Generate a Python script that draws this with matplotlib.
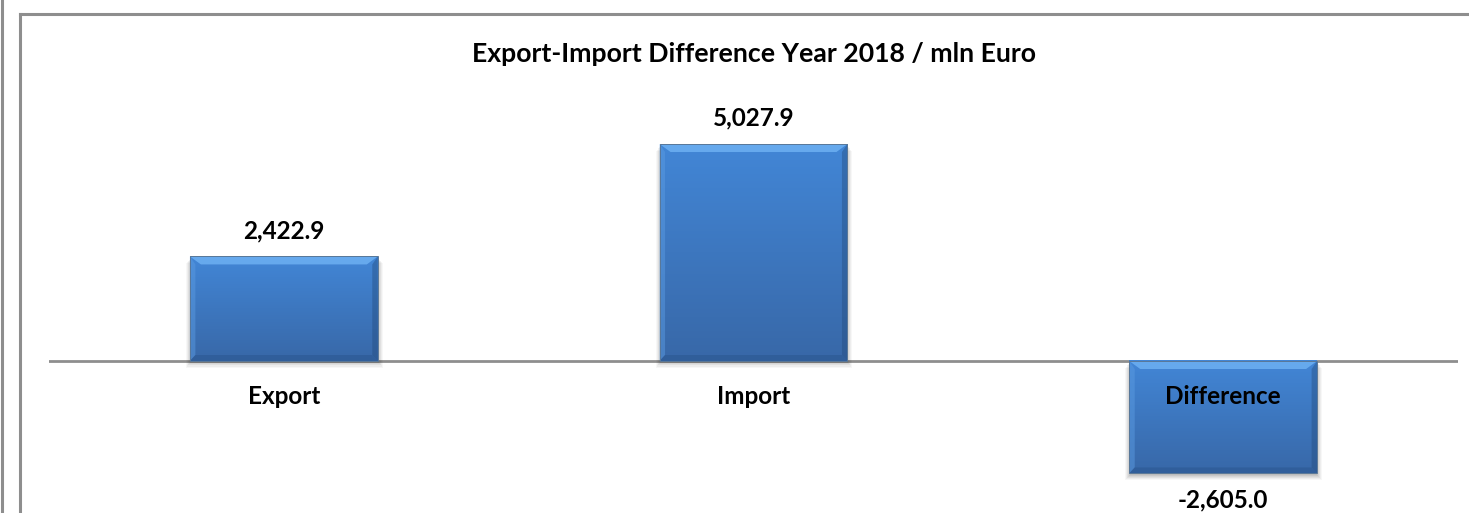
import numpy as np
import matplotlib
matplotlib.use("Agg")
import matplotlib.pyplot as plt
from matplotlib.patches import Rectangle, Polygon
from matplotlib.lines import Line2D

# ---- data ----
categories = ["Export", "Import", "Difference"]
values = [2422.9, 5027.9, -2605.0]
value_labels = ["2,422.9", "5,027.9", "-2,605.0"]
title = "Export-Import Difference Year 2018 / mln Euro"

W, H = 1469, 513
fig = plt.figure(figsize=(W / 100, H / 100), dpi=100)
plt.rcParams['font.family'] = ['Lato', 'DejaVu Sans']

# frame lines (figure pixel coords)
frame_c = "#8e8e8e"
def fline(x0, y0, x1, y1, lw=2.2):
    fig.add_artist(Line2D([x0 / W, x1 / W], [1 - y0 / H, 1 - y1 / H],
                          color=frame_c, lw=lw, transform=fig.transFigure))
fline(2, 0, 2, H)
fline(20, 14, 20, H)
fline(20, 14, W, 14)

# axes: zero line spans x 49..1458 ; y from 14 (top) to 513 (bottom)
ax_left, ax_right, ax_top, ax_bot = 49, 1458, 14, 513
ax = fig.add_axes([ax_left / W, 1 - ax_bot / H, (ax_right - ax_left) / W, (ax_bot - ax_top) / H])
ax.set_axis_off()
ppk = (361 - 144) / 5027.9  # pixels per unit
ytop = (361 - ax_top) / ppk
ybot = -(ax_bot - 361) / ppk
ax.set_xlim(-0.5, 2.5)
ax.set_ylim(ybot, ytop)

px_x = 3.0 / (ax_right - ax_left)
px_y = (ytop - ybot) / (ax_bot - ax_top)

x = np.arange(len(categories))
bars = ax.bar(x, values, width=0.4, color="none", edgecolor="none", zorder=3)

# vertical gradient colors
top_col = np.array([0x42, 0x86, 0xd6]) / 255
bot_col = np.array([0x38, 0x68, 0xa8]) / 255

for b in bars:
    bx, by, bw, bh = b.get_x(), b.get_y(), b.get_width(), b.get_height()
    y0, y1 = (by, by + bh) if bh >= 0 else (by + bh, by)
    # shadow
    for i, a in enumerate([0.06, 0.06, 0.05, 0.05, 0.04, 0.03]):
        s = (i + 1)
        ax.add_patch(Rectangle((bx - (s - 2) * px_x, y0 - s * px_y * 1.1),
                               bw + (2 * s - 3) * px_x, (y1 - y0),
                               facecolor="black", alpha=a, edgecolor="none", zorder=2))
    # main gradient
    n = 64
    t = np.linspace(0, 1, n)[:, None]
    grad = top_col[None, :] * (1 - t) + bot_col[None, :] * t
    img = np.repeat(grad[:, None, :], 2, axis=1)
    ax.imshow(img, extent=(bx, bx + bw, y0, y1), aspect="auto", origin="upper",
              zorder=3, interpolation="bilinear")
    # bevels
    bvx = 11 * px_x
    bvt = 8 * px_y
    bvb = 6 * px_y
    # top
    ax.add_patch(Polygon([(bx, y1), (bx + bw, y1), (bx + bw - bvx, y1 - bvt), (bx + bvx, y1 - bvt)],
                         closed=True, facecolor="#6db0f2", edgecolor="none", alpha=0.85, zorder=4))
    # left
    ax.add_patch(Polygon([(bx, y1), (bx + bvx * 0.5, y1 - bvt), (bx + bvx * 0.5, y0 + bvb), (bx, y0)],
                         closed=True, facecolor="#5a9ae0", edgecolor="none", alpha=0.5, zorder=4))
    # right
    ax.add_patch(Polygon([(bx + bw, y1), (bx + bw - bvx * 0.5, y1 - bvt), (bx + bw - bvx * 0.5, y0 + bvb), (bx + bw, y0)],
                         closed=True, facecolor="#22497a", edgecolor="none", alpha=0.4, zorder=4))
    # bottom
    ax.add_patch(Polygon([(bx, y0), (bx + bw, y0), (bx + bw - bvx * 0.5, y0 + bvb), (bx + bvx * 0.5, y0 + bvb)],
                         closed=True, facecolor="#2b5690", edgecolor="none", alpha=0.55, zorder=4))
    # outline
    ax.add_patch(Rectangle((bx, y0), bw, y1 - y0, facecolor="none", edgecolor="#5a7898",
                           lw=0.7, zorder=5))

# zero line
ax.axhline(0, color=frame_c, lw=2.0, zorder=1)

fs = 17.5
# value labels
for b, v, lab in zip(bars, values, value_labels):
    cx = b.get_x() + b.get_width() / 2
    if v >= 0:
        ax.annotate(lab, (cx, v), xytext=(0, 18.5), textcoords="offset points",
                    ha="center", va="center", fontsize=fs, fontweight="bold", zorder=6)
    else:
        ax.annotate(lab, (cx, v), xytext=(0, -19), textcoords="offset points",
                    ha="center", va="center", fontsize=fs, fontweight="bold", zorder=6)

# category labels
for xi, c in zip(x, categories):
    ax.annotate(c, (xi, 0), xytext=(0, -25.5), textcoords="offset points",
                ha="center", va="center", fontsize=fs, fontweight="bold", zorder=6)

fig.text((470 + 1038) / 2 / W, 1 - 54 / H, title, ha="center", va="center",
         fontsize=19.2, fontweight="bold")

fig.savefig("out.png", dpi=100)
